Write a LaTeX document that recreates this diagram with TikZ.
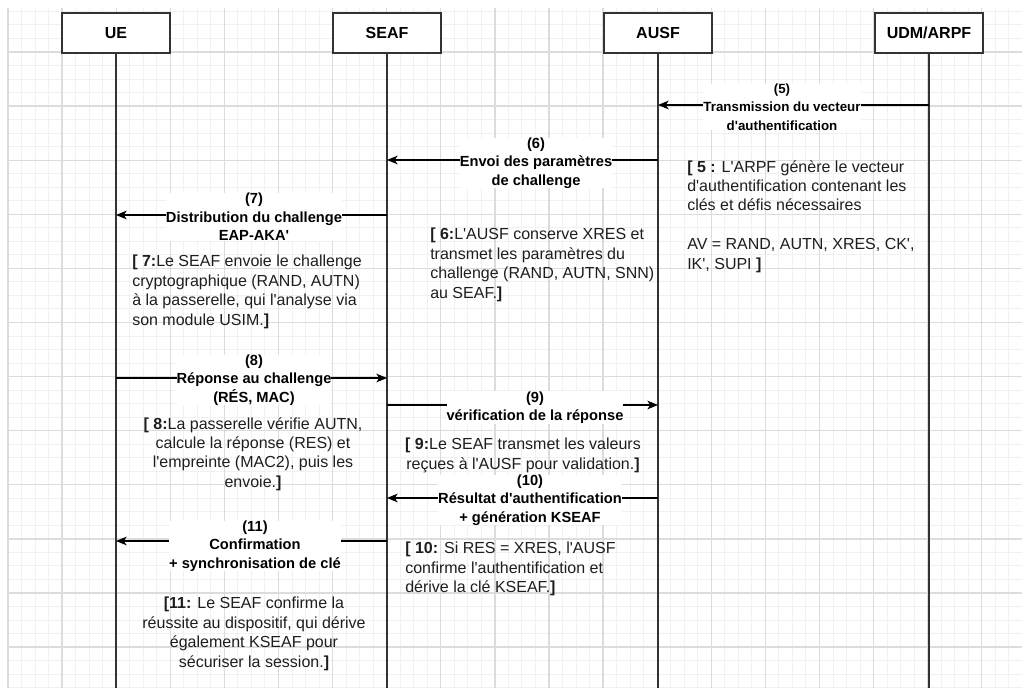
\documentclass[tikz,border=0pt]{standalone}
\usepackage{fontspec}
\setmainfont{Liberation Sans}[Ligatures=TeXOff]
\usetikzlibrary{arrows.meta}
\definecolor{gridminor}{HTML}{F1F1F1}
\definecolor{gridmajor}{HTML}{DCDCDC}
\definecolor{lifecol}{HTML}{333333}
\definecolor{notecol}{HTML}{1E1E1E}
\tikzset{
  gminor/.style={draw=gridminor, line width=0.75pt},
  gmajor/.style={draw=gridmajor, line width=1pt},
  hdr/.style={draw=lifecol, fill=white, line width=1.1pt, minimum width=81pt, minimum height=30pt, inner sep=0pt, font=\bfseries\fontsize{12}{14}\selectfont},
  life/.style={draw=lifecol, line width=1.1pt},
  msg/.style={draw=black, line width=1.1pt, -{Stealth[length=8pt,width=6.5pt,inset=2.2pt]}},
  lbl/.style={fill=white, inner sep=0pt, align=center, font=\bfseries\fontsize{11}{13.9}\selectfont},
  lblsmall/.style={lbl, font=\bfseries\fontsize{10}{13.9}\selectfont},
  note/.style={inner sep=0pt, text=notecol, font=\fontsize{12}{14.6}\selectfont},
}
\begin{document}
\begin{tikzpicture}[x=0.75pt,y=-0.75pt]
\useasboundingbox (0,0) rectangle (1022,688);
\fill[white] (0,0) rectangle (1022,688);
% grid
\foreach \i in {0,...,74} { \draw[gminor] ({8+13.525*\i},8) -- ({8+13.525*\i},688); }
\foreach \k in {-3,...,47} { \draw[gminor] (8,{52+13.525*\k}) -- (1022,{52+13.525*\k}); }
\foreach \i in {0,...,18} { \draw[gmajor] ({8+54.1*\i},8) -- ({8+54.1*\i},688); }
\foreach \k in {0,...,11} { \draw[gmajor] (8,{52+54.1*\k}) -- (1022,{52+54.1*\k}); }

% participants
\node[hdr] (ue) at (116,33) {UE};
\node[hdr] (seaf) at (387,33) {SEAF};
\node[hdr] (ausf) at (658,33) {AUSF};
\node[hdr] (udm) at (929,33) {UDM/ARPF};
\coordinate (ueb) at (116,688);
\coordinate (seafb) at (387,688);
\coordinate (ausfb) at (658,688);
\coordinate (udmb) at (929,688);
\draw[life] (ue.south) -- (ueb);
\draw[life] (seaf.south) -- (seafb);
\draw[life] (ausf.south) -- (ausfb);
\draw[life] (udm.south) -- (udmb);

% message end points
\coordinate (m5a) at (929,105);  \coordinate (m5b) at (658,105);
\coordinate (m6a) at (658,160);  \coordinate (m6b) at (387,160);
\coordinate (m7a) at (387,215);  \coordinate (m7b) at (116,215);
\coordinate (m8a) at (116,378);  \coordinate (m8b) at (387,378);
\coordinate (m9a) at (387,405);  \coordinate (m9b) at (658,405);
\coordinate (m10a) at (658,498); \coordinate (m10b) at (387,498);
\coordinate (m11a) at (387,541); \coordinate (m11b) at (116,541);

\draw[msg] (m5a) -- (m5b);
\draw[msg] (m6a) -- (m6b);
\draw[msg] (m7a) -- (m7b);
\draw[msg] (m8a) -- (m8b);
\draw[msg] (m9a) -- (m9b);
\draw[msg] (m10a) -- (m10b);
\draw[msg] (m11a) -- (m11b);

% message labels
\node[lblsmall] (l5) at (782,107) {(5)\\Transmission du vecteur\\d'authentification};
\node[lbl] (l6) at (536,163) {(6)\\Envoi des paramètres\\de challenge};
\node[lbl] (l7) at (254,217) {(7)\\Distribution du challenge\\EAP-AKA'};
\node[lbl] (l8) at (254,380) {(8)\\Réponse au challenge\\(RÉS, MAC)};
\node[lbl] (l9) at (535,407.5) {(9)\\vérification de la réponse};
\node[lbl] (l10) at (530,500) {(10)\\Résultat d'authentification\\+ génération KSEAF};
\node[lbl] (l11) at (255,546) {(11)\\Confirmation\\+ synchronisation de clé};

% notes
\node[note, anchor=north west, align=left] (n5) at (687,160) {{\bfseries[ 5 :} L'ARPF génère le vecteur\\d'authentification contenant les\\clés et défis nécessaires\\[14.6pt]AV = RAND, AUTN, XRES, CK',\\IK', SUPI {\bfseries]}};
\node[note, anchor=north west, align=left] (n6) at (430,228) {{\bfseries[ 6:}L'AUSF conserve XRES et\\transmet les paramètres du\\challenge (RAND, AUTN, SNN)\\au SEAF.{\bfseries]}};
\node[note, anchor=north west, align=left] (n7) at (132,255) {{\bfseries[ 7:}Le SEAF envoie le challenge\\cryptographique (RAND, AUTN)\\à la passerelle, qui l'analyse via\\son module USIM.{\bfseries]}};
\node[note, anchor=north, align=center] (n8) at (253,417) {{\bfseries[ 8:}La passerelle vérifie AUTN,\\calcule la réponse (RES) et\\l'empreinte (MAC2), puis les\\envoie.{\bfseries]}};
\node[note, anchor=north, align=center] (n9) at (523,438) {{\bfseries[ 9:}Le SEAF transmet les valeurs\\reçues à l'AUSF pour validation.{\bfseries]}};
\node[note, anchor=north west, align=left] (n10) at (405,542) {{\bfseries[ 10:} Si RES = XRES, l'AUSF\\confirme l'authentification et\\dérive la clé KSEAF.{\bfseries]}};
\node[note, anchor=north, align=center] (n11) at (254,597) {{\bfseries[11:} Le SEAF confirme la\\réussite au dispositif, qui dérive\\également KSEAF pour\\sécuriser la session.{\bfseries]}};
\end{tikzpicture}
\end{document}
